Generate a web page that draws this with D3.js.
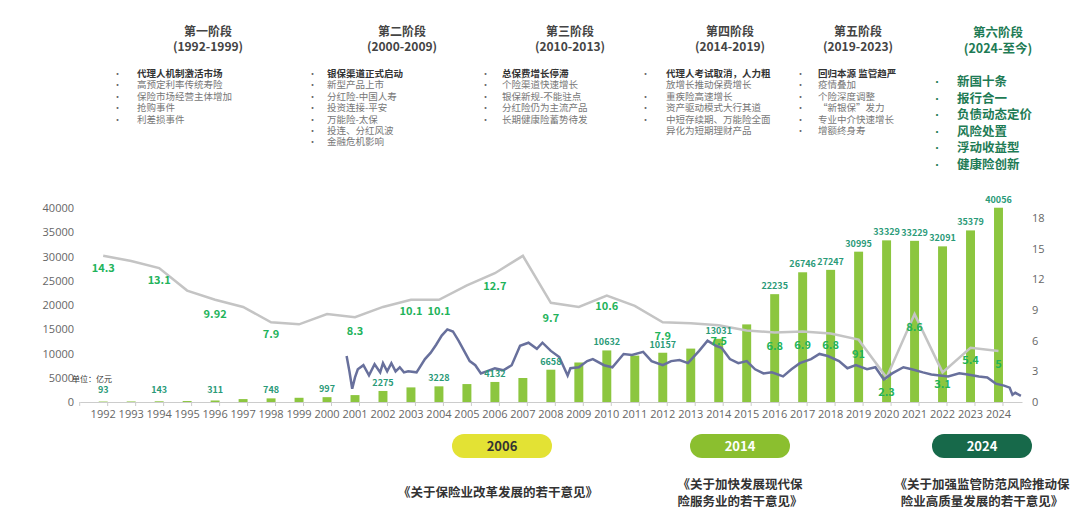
<!DOCTYPE html>
<meta charset="UTF-8">
<style>
body { margin: 0; background: #fff; font-family: "Noto Sans CJK SC", "Noto Sans", sans-serif; }
.axis text { fill: #666; font-size: 11px; font-family: "Open Sans", "Noto Sans", sans-serif; }
.axis path, .axis line { stroke: #ccc; }
</style>
<body>
<script src="https://d3js.org/d3.v7.min.js"></script>
<script>
// years on the x axis
var years = d3.range(1992, 2025);
// life premium, 亿元 (left axis)
var premium = [93,110,143,200,311,600,748,870,997,1424,2275,3011,3228,3697,4132,4949,6658,8144,10632,9560,10157,11010,13031,16000,22235,26746,27247,30995,33329,33229,32091,35379,40056];
var premiumLabelYears = [1992,1994,1996,1998,2000,2002,2004,2006,2008,2010,2012,2014,2016,2017,2018,2019,2020,2021,2022,2023,2024];
// gray line (right axis)
var grayLine = [14.3,13.8,13.1,10.9,10.0,9.3,7.8,7.6,8.6,8.3,9.3,10.0,10.0,11.4,12.6,14.3,9.7,9.3,10.4,9.4,7.8,7.7,7.5,7.0,6.8,6.9,6.7,6.1,2.4,8.6,2.9,5.3,5.0];
// green rate labels: year, text, anchor (right-axis units)
var rateYears  = [1992,1994,1996,1998,2001,2003,2004,2006,2008,2010,2012,2014,2016,2017,2018,2019,2020,2021,2022,2023,2024];
var rateTexts  = ["14.3","13.1","9.92","7.9","8.3","10.1","10.1","12.7","9.7","10.6","7.9","7.5","6.8","6.9","6.8","91","2.3","8.6","3.1","5.4","5"];
var rateAnchor = [12.7,11.5,8.2,6.3,6.6,8.5,8.5,11,7.8,9,6.1,5.6,5.1,5.2,5.2,4.3,0.6,6.9,1.4,3.7,3.3];
// blue yield line: time (fractional year), value (right axis)
var yieldT = [2001.0,2001.1,2001.2,2001.3,2001.4,2001.6,2001.8,2002.0,2002.2,2002.3,2002.45,2002.6,2002.75,2002.9,2003.05,2003.2,2003.5,2003.8,2004.0,2004.2,2004.4,2004.6,2004.8,2005.0,2005.2,2005.4,2005.6,2005.8,2006.0,2006.3,2006.6,2006.9,2007.2,2007.5,2007.8,2008.0,2008.3,2008.6,2008.9,2009.0,2009.3,2009.6,2009.8,2010.2,2010.5,2010.9,2011.2,2011.6,2011.9,2012.3,2012.6,2012.9,2013.2,2013.6,2013.9,2014.2,2014.4,2014.7,2015.0,2015.3,2015.6,2015.9,2016.2,2016.6,2016.9,2017.2,2017.6,2017.9,2018.2,2018.6,2018.9,2019.2,2019.6,2019.9,2020.2,2020.5,2020.9,2021.2,2021.6,2021.9,2022.2,2022.5,2022.9,2023.2,2023.6,2023.9,2024.2,2024.5,2024.7,2024.8,2024.9,2025.1];
var yieldV = [4.5,3.0,1.3,2.4,3.2,3.6,2.6,3.7,2.9,3.8,3.0,3.8,3.0,3.4,2.9,3.0,2.9,4.2,4.8,5.6,6.5,7.1,6.9,6.0,5.0,4.0,3.6,2.8,3.0,3.3,3.1,3.6,5.5,5.8,5.2,5.8,5.0,4.4,2.6,3.3,3.4,4.0,4.2,3.6,3.4,4.7,4.6,4.9,4.0,3.6,4.0,4.1,3.8,5.0,6.0,5.5,5.3,4.2,3.8,4.0,3.2,2.8,2.9,2.5,3.2,3.8,4.2,4.7,4.5,4.0,3.3,3.6,3.2,3.4,2.2,2.8,3.4,3.2,2.9,2.7,2.6,2.5,2.8,2.7,2.5,2.4,1.8,1.6,1.4,0.7,0.9,0.6];
var leftTicks = [0,5000,10000,15000,20000,25000,30000,35000,40000];
var rightTicks = [0,3,6,9,12,15,18];

var stages = [
  {t:"第一阶段", p:"(1992-1999)", cx:208, bx:113, tx:137, items:["代理人机制激活市场","高预定利率传统寿险","保险市场经营主体增加","抢购事件","利差损事件"]},
  {t:"第二阶段", p:"(2000-2009)", cx:402, bx:308, tx:327, items:["银保渠道正式启动","新型产品上市","分红险-中国人寿","投资连接-平安","万能险-太保","投连、分红风波","金融危机影响"]},
  {t:"第三阶段", p:"(2010-2013)", cx:570, bx:481, tx:502, items:["总保费增长停滞","个险渠道快速增长","银保新规-不能驻点","分红险仍为主流产品","长期健康险蓄势待发"]},
  {t:"第四阶段", p:"(2014-2019)", cx:730, bx:641, tx:666, items:["代理人考试取消，人力粗","放增长推动保费增长","重疾险高速增长","资产驱动模式大行其道","中短存续期、万能险全面","异化为短期理财产品"], nob:[1,5]},
  {t:"第五阶段", p:"(2019-2023)", cx:858, bx:796, tx:818, items:["回归本源 监管趋严","疫情叠加","个险深度调整","“新银保”发力","专业中介快速增长","增额终身寿"]}
];
var stage6 = ["新国十条","报行合一","负债动态定价","风险处置","浮动收益型","健康险创新"];

var svg = d3.select("body").append("svg").attr("width", 1080).attr("height", 524);

// top stage notes
stages.forEach(function(s) {
  svg.append("text").attr("x", s.cx).attr("y", 36).attr("text-anchor", "middle")
    .attr("font-size", 12).attr("font-weight", "bold").attr("fill", "#444").text(s.t);
  svg.append("text").attr("x", s.cx).attr("y", 51).attr("text-anchor", "middle")
    .attr("font-size", 12).attr("font-weight", "bold").attr("fill", "#444").text(s.p);
  s.items.forEach(function(it, i) {
    var y = 77 + i * 11.4;
    if (!(s.nob && s.nob.indexOf(i) >= 0))
      svg.append("text").attr("x", s.bx).attr("y", y).attr("font-size", 9).attr("fill", "#666").text("•");
    svg.append("text").attr("x", s.tx).attr("y", y).attr("font-size", 9.5)
      .attr("fill", i == 0 ? "#333" : "#777").attr("font-weight", i == 0 ? "bold" : "normal").text(it);
  });
});
svg.append("text").attr("x", 998).attr("y", 37).attr("text-anchor", "middle")
  .attr("font-size", 12.5).attr("font-weight", "bold").attr("fill", "#1e7b55").text("第六阶段");
svg.append("text").attr("x", 998).attr("y", 53).attr("text-anchor", "middle")
  .attr("font-size", 12.5).attr("font-weight", "bold").attr("fill", "#1e7b55").text("(2024-至今)");
stage6.forEach(function(it, i) {
  var y = 86 + i * 16.6;
  svg.append("text").attr("x", 932).attr("y", y).attr("font-size", 10).attr("fill", "#1e7b55").text("•");
  svg.append("text").attr("x", 957).attr("y", y).attr("font-size", 12.5).attr("font-weight", "bold").attr("fill", "#1e7b55").text(it);
});

// scales
var x = d3.scaleBand().domain(years).range([79.7, 1022]).padding(0.68);
var yL = d3.scaleLinear().domain([0, 40000]).range([402, 208]);
var yR = d3.scaleLinear().domain([0, 18]).range([402, 218]);
var xT = d3.scaleLinear().domain([1992.3, 2024.3]).range([x(1992) + x.bandwidth() / 2, x(2024) + x.bandwidth() / 2]);
function cx(yr) { return x(yr) + x.bandwidth() / 2; }

// axes
var xa = svg.append("g").attr("class", "axis").attr("transform", "translate(0,402)")
  .call(d3.axisBottom(x).tickSize(0).tickPadding(8));
xa.select(".domain").attr("stroke", "#ccc");
xa.selectAll(".sep").data(years.concat([2025])).enter().append("line")
  .attr("x1", function(d) { return x.step() * (d - 1992) + 79.7; })
  .attr("x2", function(d) { return x.step() * (d - 1992) + 79.7; })
  .attr("y1", 0).attr("y2", 4).attr("stroke", "#ccc");
var la = svg.append("g").attr("class", "axis").attr("transform", "translate(76,0)")
  .call(d3.axisLeft(yL).tickValues(leftTicks).tickFormat(d3.format("d")).tickSize(0).tickPadding(2));
la.select(".domain").remove();
var ra = svg.append("g").attr("class", "axis").attr("transform", "translate(1026,0)")
  .call(d3.axisRight(yR).tickValues(rightTicks).tickSize(0).tickPadding(6));
ra.select(".domain").remove();
svg.append("text").attr("x", 72).attr("y", 382).attr("font-size", 8).attr("fill", "#333").text("单位：亿元");

// bars
svg.selectAll(".bar").data(years).enter().append("rect")
  .attr("x", function(d) { return x(d); })
  .attr("width", x.bandwidth())
  .attr("y", function(d, i) { return yL(premium[i]); })
  .attr("height", function(d, i) { return 402 - yL(premium[i]); })
  .attr("fill", "#8cc63f");

// gray line
svg.append("path").datum(grayLine)
  .attr("fill", "none").attr("stroke", "#c4c4c4").attr("stroke-width", 2.5)
  .attr("d", d3.line().x(function(d, i) { return cx(years[i]); }).y(function(d) { return yR(d); }));

// blue yield line
svg.append("path").datum(yieldV)
  .attr("fill", "none").attr("stroke", "#68709c").attr("stroke-width", 2.5)
  .attr("d", d3.line().x(function(d, i) { return xT(yieldT[i]); }).y(function(d) { return yR(d); }));

// premium labels
premiumLabelYears.forEach(function(yr) {
  var v = premium[yr - 1992];
  svg.append("text").attr("x", cx(yr)).attr("y", Math.min(yL(v) - 5, 393)).attr("text-anchor", "middle")
    .attr("font-size", 9).attr("font-weight", "bold").attr("fill", "#2a9a78").text(v);
});

// growth rate labels
rateYears.forEach(function(yr, i) {
  svg.append("text").attr("x", cx(yr)).attr("y", yR(rateAnchor[i])).attr("text-anchor", "middle")
    .attr("font-size", 11).attr("font-weight", "bold").attr("fill", "#22b35a").text(rateTexts[i]);
});

// policy pills
var pills = [
  {yr:"2006", cx:502, fill:"#e3e234", col:"#333", lines:["《关于保险业改革发展的若干意见》"]},
  {yr:"2014", cx:740, fill:"#8bbf2f", col:"#fff", lines:["《关于加快发展现代保","险服务业的若干意见》"]},
  {yr:"2024", cx:982, fill:"#17694a", col:"#fff", lines:["《关于加强监管防范风险推动保","险业高质量发展的若干意见》"]}
];
pills.forEach(function(p) {
  svg.append("rect").attr("x", p.cx - 50).attr("y", 434).attr("width", 100).attr("height", 24)
    .attr("rx", 12).attr("fill", p.fill);
  svg.append("text").attr("x", p.cx).attr("y", 451).attr("text-anchor", "middle")
    .attr("font-size", 13).attr("font-weight", "bold").attr("fill", p.col).text(p.yr);
  p.lines.forEach(function(l, i) {
    var y0 = p.lines.length == 1 ? 497 : 489;
    svg.append("text").attr("x", p.cx + (p.lines.length == 1 ? -4 : 0)).attr("y", y0 + i * 17)
      .attr("text-anchor", "middle").attr("font-size", 12.5).attr("font-weight", "bold").attr("fill", "#333").text(l);
  });
});
</script>
</body>
